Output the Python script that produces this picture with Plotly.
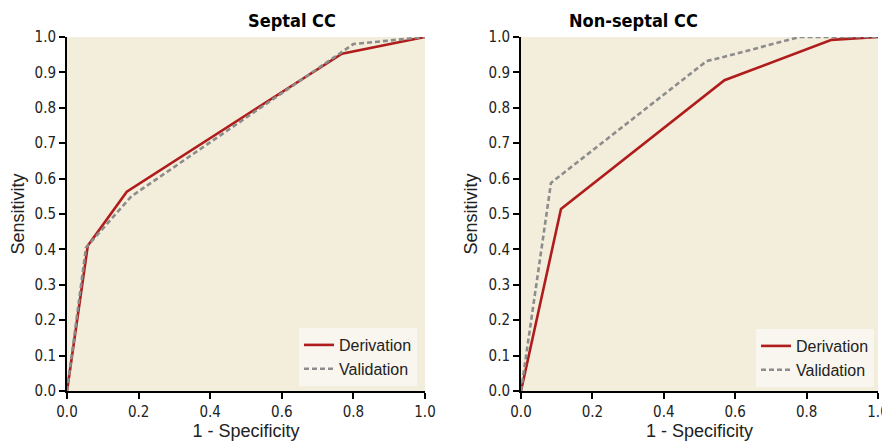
import plotly.graph_objects as go

# Data
septal_deriv_x = [0.0, 0.058, 0.167, 0.768, 1.0]
septal_deriv_y = [0.0, 0.41, 0.563, 0.953, 1.0]
septal_valid_x = [0.0, 0.053, 0.18, 0.775, 0.80, 1.0]
septal_valid_y = [0.0, 0.405, 0.55, 0.962, 0.98, 1.0]

nonsep_deriv_x = [0.0, 0.112, 0.57, 0.87, 1.0]
nonsep_deriv_y = [0.0, 0.514, 0.878, 0.992, 1.0]
nonsep_valid_x = [0.0, 0.084, 0.52, 0.565, 0.78, 1.0]
nonsep_valid_y = [0.0, 0.588, 0.932, 0.943, 1.0, 1.0]

titles = ["Septal CC", "Non-septal CC"]
tick_vals = [0.0, 0.2, 0.4, 0.6, 0.8, 1.0]
ytick_vals = [round(i * 0.1, 1) for i in range(11)]

RED = "#b01c1c"
GRAY = "#8c8c8c"
BG = "#f2eedb"
FONT_C = "DejaVu Sans Condensed, Liberation Sans Narrow, sans-serif"
FONT = "Liberation Sans, Arial, sans-serif"

fig = go.Figure()

panels = [
    (septal_deriv_x, septal_deriv_y, septal_valid_x, septal_valid_y, "x", "y", "legend"),
    (nonsep_deriv_x, nonsep_deriv_y, nonsep_valid_x, nonsep_valid_y, "x2", "y2", "legend2"),
]
for dx, dy, vx, vy, xa, ya, lg in panels:
    fig.add_trace(go.Scatter(x=dx, y=dy, mode="lines", name="Derivation",
                             line=dict(color=RED, width=2.6), xaxis=xa, yaxis=ya, legend=lg))
    fig.add_trace(go.Scatter(x=vx, y=vy, mode="lines", name="Validation",
                             line=dict(color=GRAY, width=2.6, dash="5px,3px"), xaxis=xa, yaxis=ya, legend=lg))

# page has an 8px body margin; figure is sized to fit the window
OFF = 8
W, H = 882, 435


def px(xpix):
    return (xpix - OFF) / W


def py(ypix):
    return (H - (ypix - OFF)) / H


xd1 = [px(67), px(425)]
xd2 = [px(521), px(878)]
yd = [py(391), py(37)]

axis_common = dict(
    range=[0, 1], showgrid=False, zeroline=False, showline=True, linecolor="black", linewidth=2,
    ticks="outside", ticklen=6, tickwidth=1.5, tickcolor="black", automargin=False,
    tickfont=dict(family=FONT_C, size=15, color="#222"), fixedrange=True,
)
title_font = dict(family=FONT, size=18, color="#222")

fig.update_layout(
    width=W, height=H,
    margin=dict(l=0, r=0, t=0, b=0),
    paper_bgcolor="white", plot_bgcolor=BG,
    showlegend=True,
    xaxis=dict(domain=xd1, anchor="y", tickvals=tick_vals, ticktext=[f"{v:.1f}" for v in tick_vals],
               title=dict(text="1 - Specificity", font=title_font, standoff=2), **axis_common),
    yaxis=dict(domain=yd, anchor="x", tickvals=ytick_vals, ticktext=[f"{v:.1f}" for v in ytick_vals],
               title=dict(text="Sensitivity", font=title_font, standoff=6), **axis_common),
    xaxis2=dict(domain=xd2, anchor="y2", tickvals=tick_vals, ticktext=[f"{v:.1f}" for v in tick_vals],
                title=dict(text="1 - Specificity", font=title_font, standoff=2), **axis_common),
    yaxis2=dict(domain=yd, anchor="x2", tickvals=ytick_vals, ticktext=[f"{v:.1f}" for v in ytick_vals],
                title=dict(text="Sensitivity", font=title_font, standoff=6), **axis_common),
    legend=dict(x=px(417), y=py(386), xanchor="right", yanchor="bottom",
                bgcolor="#f8f6ee", font=dict(family=FONT, size=16, color="#222"),
                tracegroupgap=0, itemwidth=30),
    legend2=dict(x=px(874), y=py(387), xanchor="right", yanchor="bottom",
                 bgcolor="#f8f6ee", font=dict(family=FONT, size=16, color="#222"),
                 tracegroupgap=0, itemwidth=30),
)

for i, t in enumerate(titles):
    xd = xd1 if i == 0 else xd2
    fig.add_annotation(text=f"<b>{t}</b>", x=(xd[0] + xd[1]) / 2, y=py(20),
                       xref="paper", yref="paper", showarrow=False, yanchor="middle",
                       font=dict(family=FONT_C, size=18, color="black"))

fig.write_html("out.html")
